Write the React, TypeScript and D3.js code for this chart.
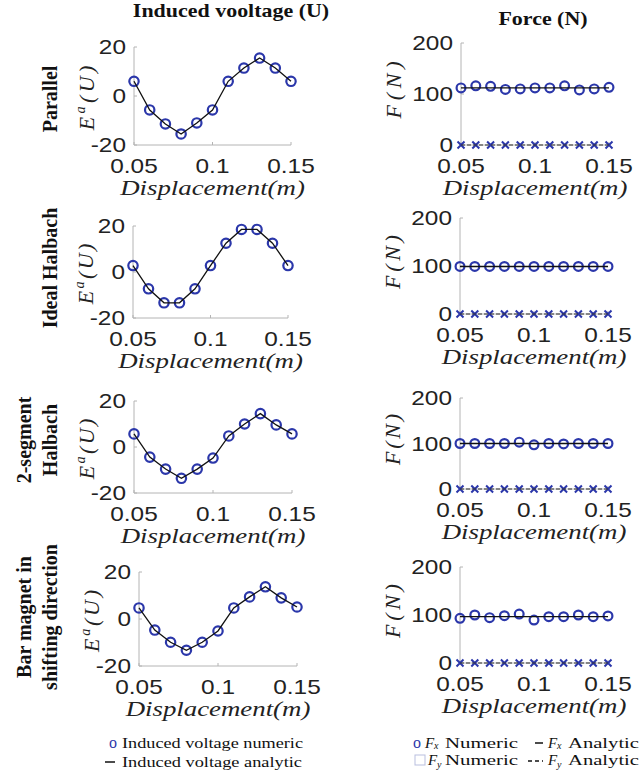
import * as d3 from "d3";
import React from "react";

const displacement = [0.05, 0.06, 0.07, 0.08, 0.09, 0.1, 0.11, 0.12, 0.13, 0.14, 0.15];

// induced voltage (numeric circles, analytic line through them)
const voltParallel = [6, -5.7, -11.4, -15.5, -11, -5.7, 6, 11.4, 15.5, 11.4, 6];
const voltIdeal = [2.8, -7.3, -13.4, -13.4, -7.3, 2.8, 12.5, 18.5, 18.5, 12.5, 2.8];
const volt2Seg = [5.7, -4.4, -9.6, -13.6, -9.6, -4.8, 4.8, 10, 14.5, 9.6, 5.7];
const voltBar = [4.7, -4.7, -9.9, -13.3, -9.9, -5.1, 4.7, 9.4, 13.7, 9, 5.1];

// Fx numeric
const fxParallel = [112, 116, 115, 109, 110, 112, 112, 116, 108, 110, 113];
const fxIdeal = [99, 99, 99, 99, 99, 99, 99, 99, 99, 99, 99];
const fx2Seg = [100, 100, 100, 100, 103, 97, 100, 99, 100, 100, 100];
const fxBar = [93, 100, 94.5, 98.5, 102, 89.5, 96.5, 96.5, 100, 96.5, 98];
// Fx analytic
const fxAnaParallel = [112, 112, 112, 112, 112, 112, 112, 112, 112, 112, 112];
const fxAnaIdeal = [99, 99, 99, 99, 99, 99, 99, 99, 99, 99, 99];
const fxAna2Seg = [100, 100, 100, 100, 100, 100, 100, 100, 100, 100, 100];
const fxAnaBar = [96.5, 96.5, 96.5, 96.5, 96.5, 96.5, 96.5, 96.5, 96.5, 96.5, 96.5];
// Fy (numeric + analytic) stays at zero
const fyValues = [0, 0, 0, 0, 0, 0, 0, 0, 0, 0, 0];

const rowLabels = [["Parallel"], ["Ideal Halbach"], ["2-segment", "Halbach"], ["Bar magnet in", "shifting direction"]];
const xTicks = [0.05, 0.1, 0.15];
const voltTicks = [-20, 0, 20];
const forceTicks = [0, 100, 200];

const voltSeries = [voltParallel, voltIdeal, volt2Seg, voltBar];
const fxSeries = [fxParallel, fxIdeal, fx2Seg, fxBar];
const fxAnaSeries = [fxAnaParallel, fxAnaIdeal, fxAna2Seg, fxAnaBar];

const BLUE = "#2b37aa";
const AXIS = "#b4b4b4";
const SX = 1.22; // the source is stretched sideways
const SANS = "Liberation Sans, Arial, sans-serif";
const SERIF = "Liberation Serif, Times New Roman, serif";

// panel boxes [x0, x1, yTop, yBottom]
const leftBox = [
  [134, 291, 47, 145],
  [133, 288, 226, 318],
  [134, 292, 401, 493],
  [139, 297, 572, 666],
];
const rightBox = [
  [461, 609, 43, 145],
  [460, 608, 218, 314],
  [460, 608, 398, 489],
  [460, 608, 567, 663],
];
const rowLabelY = [99, 268, 440, 617];

const fmt = (v) => (v === 0.1 ? "0.1" : String(v));

function Panel({ box, domain, ticks, kind, num, ana }) {
  const [x0, x1, y0, y1] = box;
  const x = d3.scaleLinear().domain([0.05, 0.15]).range([x0, x1]);
  const y = d3.scaleLinear().domain(domain).range([y1, y0]);
  const line = d3
    .line<number>()
    .x((_, i) => x(displacement[i]))
    .y((d) => y(d));
  const midY = (y0 + y1) / 2;
  const h = y1 - y0;

  return (
    <g>
      {/* axes */}
      <line x1={x0} x2={x0} y1={y0} y2={y1} stroke={AXIS} strokeWidth={1} />
      <line x1={x0} x2={x1} y1={y1} y2={y1} stroke={AXIS} strokeWidth={1} />
      {xTicks.map((t) => (
        <g key={"xt" + t}>
          <line x1={x(t)} x2={x(t)} y1={y1} y2={y1 - 3} stroke={AXIS} />
          <text
            transform={`translate(${x(t)},${y1 + 28}) scale(${SX},1)`}
            textAnchor="middle"
            fontFamily={SANS}
            fontSize={20}
            fill="#222"
          >
            {fmt(t)}
          </text>
        </g>
      ))}
      {ticks.map((t) => (
        <g key={"yt" + t}>
          <line x1={x0} x2={x0 + 3} y1={y(t)} y2={y(t)} stroke={AXIS} />
          <text
            transform={`translate(${x0 - 8},${y(t)}) scale(${SX},1)`}
            dy="0.36em"
            textAnchor="end"
            fontFamily={SANS}
            fontSize={20}
            fill="#222"
          >
            {t}
          </text>
        </g>
      ))}
      <text
        transform={`translate(${(x0 + x1) / 2},${y1 + 50}) scale(${SX},1)`}
        textAnchor="middle"
        fontFamily={SERIF}
        fontStyle="italic"
        fontSize={22}
        fill="#222"
      >
        Displacement(m)
      </text>

      {kind === "volt" ? (
        <text
          transform={`translate(${x0 - 40},${midY + 2}) rotate(-90)`}
          textAnchor="middle"
          fontFamily={SERIF}
          fontStyle="italic"
          fontSize={22}
          fill="#222"
          textLength={h * 0.66}
          lengthAdjust="spacing"
        >
          E<tspan fontSize={14} dy={-9}>a</tspan>
          <tspan dy={9}>(U)</tspan>
        </text>
      ) : (
        <text
          transform={`translate(${x0 - 60},${midY - 4}) rotate(-90)`}
          textAnchor="middle"
          fontFamily={SERIF}
          fontStyle="italic"
          fontSize={22}
          fill="#222"
          textLength={h * 0.56}
          lengthAdjust="spacing"
        >
          F(N)
        </text>
      )}

      {/* Fy crosses and dashed analytic */}
      {kind === "force" && (
        <g>
          {fyValues.map((v, i) => (
            <path
              key={"fy" + i}
              d={`M${x(displacement[i]) - 3.5},${y(v) - 3.5}L${x(displacement[i]) + 3.5},${y(v) + 3.5}M${x(displacement[i]) - 3.5},${y(v) + 3.5}L${x(displacement[i]) + 3.5},${y(v) - 3.5}`}
              stroke={BLUE}
              strokeWidth={2}
            />
          ))}
          <path d={line(fyValues) || ""} fill="none" stroke="#333" strokeWidth={1.2} strokeDasharray="4,2" />
        </g>
      )}

      {/* numeric circles */}
      {num.map((v, i) => (
        <circle
          key={"c" + i}
          cx={x(displacement[i])}
          cy={y(v)}
          r={kind === "volt" ? 4.7 : 4.4}
          fill="none"
          stroke={BLUE}
          strokeWidth={2.2}
        />
      ))}
      {/* analytic line */}
      <path d={line(ana) || ""} fill="none" stroke="#111" strokeWidth={1.3} />
    </g>
  );
}

export default function App() {
  return (
    <svg width={639} height={784} style={{ position: "absolute", left: 0, top: 0, background: "#fff" }}>
      <rect width={639} height={784} fill="#fff" />
      <text
        transform={`translate(231,17) scale(${SX},1)`}
        textAnchor="middle"
        fontFamily={SERIF}
        fontWeight="bold"
        fontSize={18}
        fill="#111"
      >
        Induced vooltage (U)
      </text>
      <text
        transform={`translate(543,25) scale(${SX},1)`}
        textAnchor="middle"
        fontFamily={SERIF}
        fontWeight="bold"
        fontSize={18}
        fill="#111"
      >
        Force (N)
      </text>

      {rowLabels.map((lines, r) =>
        lines.map((txt, k) => (
          <text
            key={"rl" + r + k}
            transform={`translate(${lines.length === 1 ? 57 : k === 0 ? 31 : 57},${rowLabelY[r]}) rotate(-90)`}
            textAnchor="middle"
            fontFamily={SERIF}
            fontWeight="bold"
            fontSize={20}
            fill="#111"
          >
            {txt}
          </text>
        ))
      )}

      {voltSeries.map((s, r) => (
        <Panel key={"v" + r} box={leftBox[r]} domain={[-20, 20]} ticks={voltTicks} kind="volt" num={s} ana={s} />
      ))}
      {fxSeries.map((s, r) => (
        <Panel key={"f" + r} box={rightBox[r]} domain={[0, 200]} ticks={forceTicks} kind="force" num={s} ana={fxAnaSeries[r]} />
      ))}

      {/* left legend */}
      <text x={109} y={748} fontFamily={SERIF} fontSize={16} fill={BLUE}>o</text>
      <text x={122} y={748} fontFamily={SERIF} fontSize={14.5} fill="#111" textLength={181} lengthAdjust="spacingAndGlyphs">
        Induced voltage numeric
      </text>
      <line x1={105} x2={115} y1={762} y2={762} stroke="#111" strokeWidth={1.5} />
      <text x={122} y={767} fontFamily={SERIF} fontSize={14.5} fill="#111" textLength={180} lengthAdjust="spacingAndGlyphs">
        Induced voltage analytic
      </text>

      {/* right legend */}
      <text x={413} y={748} fontFamily={SERIF} fontSize={16} fill={BLUE}>o</text>
      <text x={425} y={748} fontFamily={SERIF} fontSize={15} fontStyle="italic" fill="#111">F</text>
      <text x={434} y={749} fontFamily={SERIF} fontSize={10} fontStyle="italic" fill="#111">x</text>
      <text x={445} y={748} fontFamily={SERIF} fontSize={14.5} fill="#111" textLength={73} lengthAdjust="spacingAndGlyphs">Numeric</text>
      <line x1={535} x2={543} y1={743} y2={743} stroke="#111" strokeWidth={1.5} />
      <text x={548} y={748} fontFamily={SERIF} fontSize={15} fontStyle="italic" fill="#111">F</text>
      <text x={557} y={749} fontFamily={SERIF} fontSize={10} fontStyle="italic" fill="#111">x</text>
      <text x={568} y={748} fontFamily={SERIF} fontSize={14.5} fill="#111" textLength={71} lengthAdjust="spacingAndGlyphs">Analytic</text>

      <rect x={415} y={755} width={10} height={10} fill="none" stroke="#b9bfdf" strokeWidth={1} />
      <text x={428} y={765} fontFamily={SERIF} fontSize={15} fontStyle="italic" fill="#111">F</text>
      <text x={437} y={768} fontFamily={SERIF} fontSize={10} fontStyle="italic" fill="#111">y</text>
      <text x={445} y={765} fontFamily={SERIF} fontSize={14.5} fill="#111" textLength={73} lengthAdjust="spacingAndGlyphs">Numeric</text>
      <line x1={528} x2={543} y1={761} y2={761} stroke="#111" strokeWidth={1.5} strokeDasharray="4,3" />
      <text x={548} y={765} fontFamily={SERIF} fontSize={15} fontStyle="italic" fill="#111">F</text>
      <text x={557} y={768} fontFamily={SERIF} fontSize={10} fontStyle="italic" fill="#111">y</text>
      <text x={568} y={765} fontFamily={SERIF} fontSize={14.5} fill="#111" textLength={71} lengthAdjust="spacingAndGlyphs">Analytic</text>
    </svg>
  );
}
